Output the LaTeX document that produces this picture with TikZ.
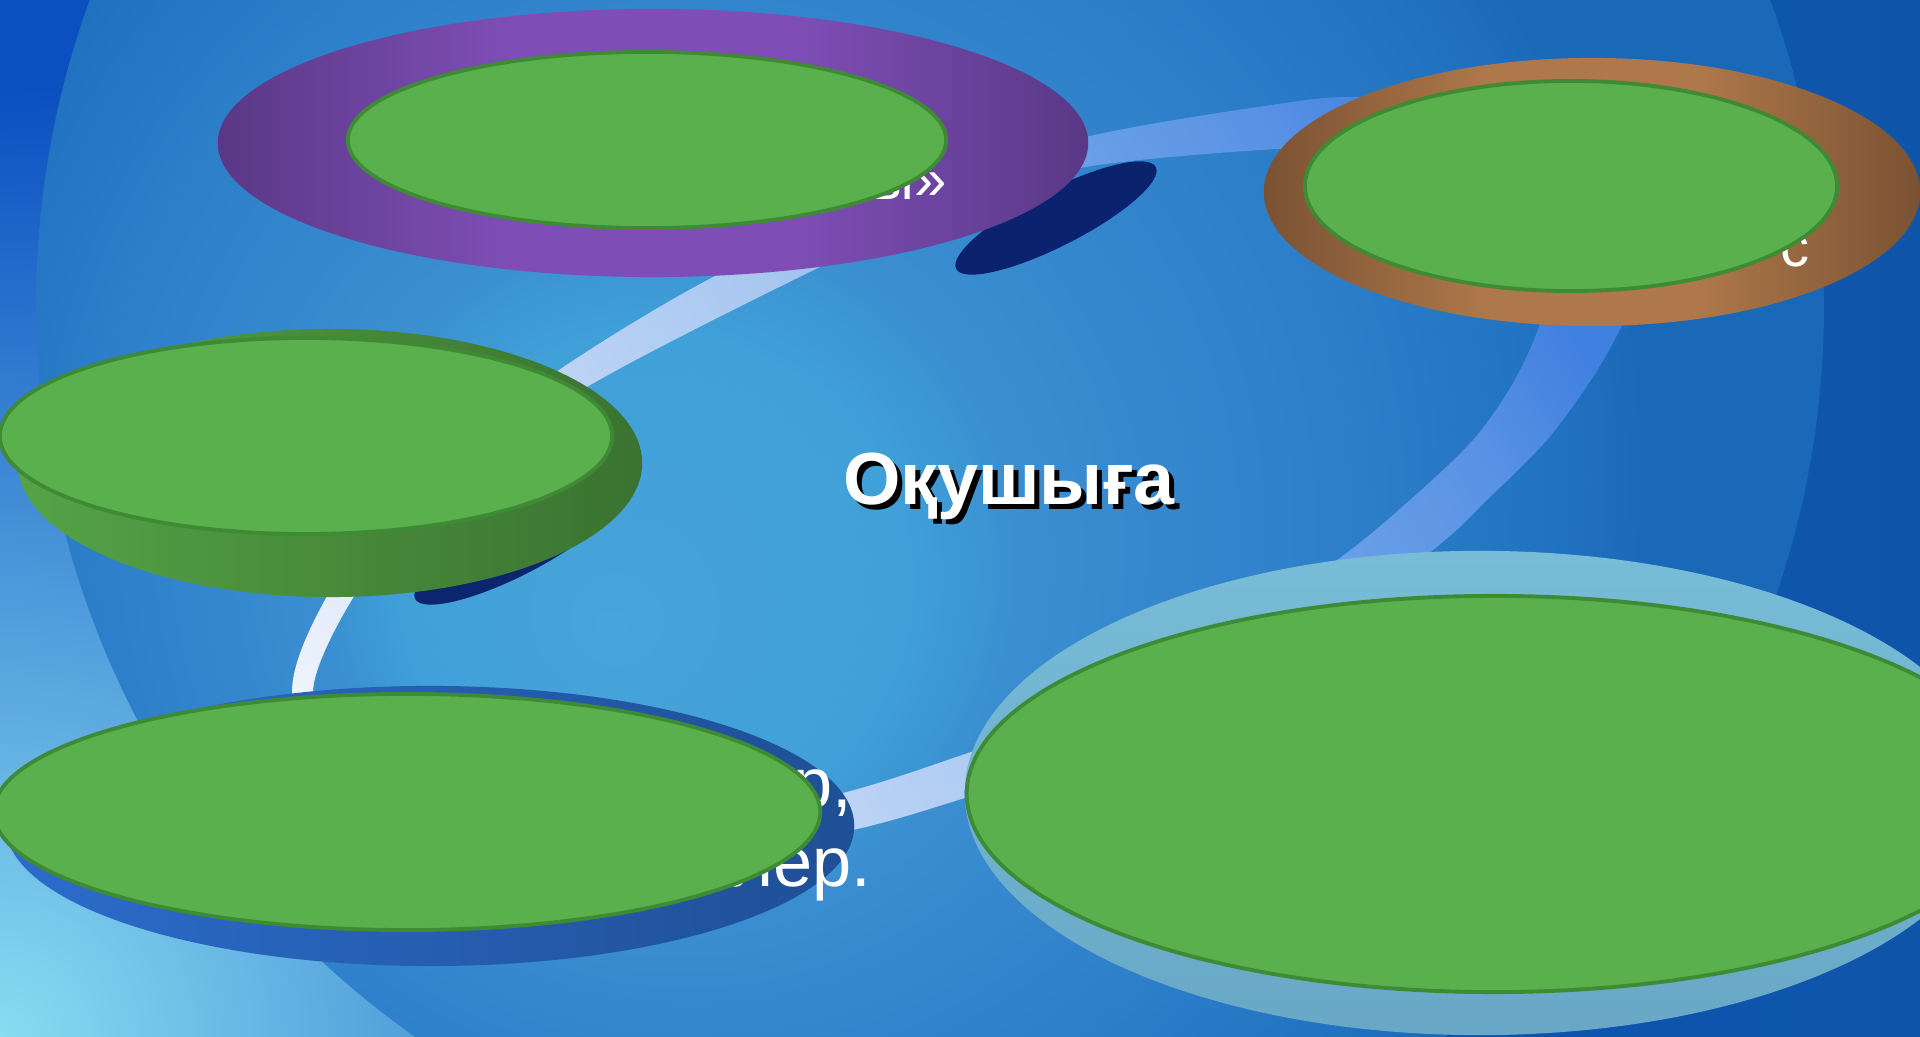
\documentclass[tikz,border=0pt]{standalone}
\usepackage{fontspec}
\setmainfont{Liberation Sans}
\usetikzlibrary{shapes.geometric, fadings}

\definecolor{bgleft}{HTML}{0C4FC2}
\definecolor{bgright}{HTML}{0E55AA}
\definecolor{glowcyan}{HTML}{8ADCF2}
\definecolor{discin}{HTML}{48A4DA}
\definecolor{discmid}{HTML}{40A0D8}
\definecolor{discmid2}{HTML}{3A8ED0}
\definecolor{discmid3}{HTML}{2E80CA}
\definecolor{discmid4}{HTML}{2274C2}
\definecolor{discout}{HTML}{1A68B8}
\definecolor{ring0}{HTML}{F4F8FE}
\definecolor{ring1}{HTML}{EEF3FC}
\definecolor{ring2}{HTML}{B8D0F4}
\definecolor{ring3}{HTML}{A8C8F0}
\definecolor{ring4}{HTML}{6AA0E8}
\definecolor{ring5}{HTML}{5A92E4}
\definecolor{ring6}{HTML}{4080E0}
\definecolor{ring7}{HTML}{3A7CE0}
\definecolor{navyshadow}{HTML}{081B66}
\definecolor{purpleedge}{HTML}{5A3886}
\definecolor{purplemid}{HTML}{7E4EB6}
\definecolor{brownedge}{HTML}{7A5233}
\definecolor{brownmid}{HTML}{AE784A}
\definecolor{facegreen}{HTML}{5AB04C}
\definecolor{faceline}{HTML}{3F8A35}
\definecolor{sidelight}{HTML}{55A347}
\definecolor{sidedark}{HTML}{3A7330}
\definecolor{baseblue}{HTML}{2C6CCC}
\definecolor{basedark}{HTML}{1F4F95}
\definecolor{palelight}{HTML}{78BCD8}
\definecolor{paledark}{HTML}{68A8C6}

\tikzfading[name=glowfade, inner color=transparent!0, outer color=transparent!100]
% the path fills 25bp to 75bp of each shading
\pgfdeclareradialshading{discglow}{\pgfpoint{-9bp}{-9bp}}{color(0bp)=(discin); color(7bp)=(discmid); color(10bp)=(discmid2); color(17bp)=(discmid3); color(22bp)=(discmid4); color(25bp)=(discout); color(50bp)=(discout)}
\pgfdeclarehorizontalshading{ringshade}{100bp}{color(0bp)=(ring0); color(31bp)=(ring1); color(43bp)=(ring2); color(48bp)=(ring3); color(57bp)=(ring4); color(62bp)=(ring5); color(66bp)=(ring6); color(100bp)=(ring7)}
\pgfdeclarehorizontalshading{purplering}{100bp}{color(0bp)=(purpleedge); color(25bp)=(purpleedge); color(42bp)=(purplemid); color(58bp)=(purplemid); color(75bp)=(purpleedge); color(100bp)=(purpleedge)}
\pgfdeclarehorizontalshading{brownring}{100bp}{color(0bp)=(brownedge); color(25bp)=(brownedge); color(42bp)=(brownmid); color(58bp)=(brownmid); color(75bp)=(brownedge); color(100bp)=(brownedge)}

\tikzset{
  face1/.style = {
    shape = ellipse,
    draw = faceline,
    fill = facegreen,
    line width = 1.1pt,
    inner sep = 0pt,
  }
}
\tikzset{
  rim1/.style = {
    shape = ellipse,
    inner sep = 0pt,
  }
}
\tikzset{
  shadow1/.style = {
    shape = ellipse, fill = navyshadow, fill opacity = 0.92, inner sep = 0pt,
    rotate = 27, minimum width = 2.24cm, minimum height = 0.56cm,
  }
}
\tikzset{
  frag1/.style = {text = white, inner sep = 0pt, anchor = base east},
  title1/.style = {anchor = base, font = \fontsize{21}{25}\selectfont\bfseries},
}

\begin{document}
\begin{tikzpicture}[x=0.01cm, y=-0.01cm]
        \useasboundingbox (0,0) rectangle (1920,1037);
        \clip (0,0) rectangle (1920,1037);
        % background
        \shade[left color=bgleft, right color=bgright] (0,0) rectangle (1920,1037);
        \fill[glowcyan, path fading=glowfade] (0,1037) circle [radius=950];
        \shade[shading=discglow] (930,306) circle [radius=894];
        % cycle ring
        \begin{scope}[even odd rule]
          \clip plot[smooth cycle] coordinates {
            (292,693) (326,598) (405,488) (556,372) (717,275) (900,195)
            (1086,137) (1278,104) (1358,97) (1500,105) (1620,160) (1655,245)
            (1623,323) (1593,377) (1547,440) (1487,500) (1433,550) (1250,690) (1050,770)
            (968,797) (853,830) (650,868) (450,860) (330,800)}
            plot[smooth cycle] coordinates {
            (313,693) (353,598) (435,495) (587,387) (820,267) (960,205)
            (1086,167) (1278,149) (1400,150) (1500,185) (1548,260)
            (1540,323) (1513,383) (1473,440) (1410,500) (1337,560) (1200,650) (1060,720)
            (968,753) (843,793) (650,835) (460,820) (355,765)};
          \begin{scope}[transform canvas={rotate around={33:(960,450)}}]
            \shade[shading=ringshade] (60,-450) rectangle (1860,1350);
          \end{scope}
        \end{scope}
        \node[shadow1](s1) at (1056,218) {};
        \node[shadow1](s2) at (515,548) {};
        % top left
        \node[rim1, minimum width = 8.7cm, minimum height = 2.68cm, shading = purplering](p) at (653,143) {};
        \node[frag1, font = \fontsize{16.5}{20}\selectfont](t1) at (947,200) {ы»};
        \node[face1, minimum width = 5.98cm, minimum height = 1.76cm](1) at (647,140) {};
        % top right
        \node[rim1, minimum width = 6.56cm, minimum height = 2.68cm, shading = brownring](b) at (1592,192) {};
        \node[frag1, font = \fontsize{16.5}{20}\selectfont](t2) at (1810,267) {с};
        \node[face1, minimum width = 5.32cm, minimum height = 2.10cm](2) at (1571,186) {};
        % left
        \node[rim1, minimum width = 6.24cm, minimum height = 2.68cm, left color = sidelight, right color = sidedark](g) at (330,463) {};
        \node[face1, minimum width = 6.12cm, minimum height = 1.96cm](3) at (306,436) {};
        % bottom left
        \node[rim1, minimum width = 8.48cm, minimum height = 2.80cm, left color = baseblue, right color = basedark](l) at (430,826) {};
        \node[frag1, font = \fontsize{20}{24}\selectfont](t3) at (853,808) {р,};
        \node[frag1, font = \fontsize{20}{24}\selectfont](t4) at (872,887) {лер.};
        \node[face1, minimum width = 8.26cm, minimum height = 2.36cm](4) at (407,812) {};
        % bottom right
        \node[rim1, minimum width = 10.30cm, minimum height = 4.84cm, top color = palelight, bottom color = paledark](r) at (1480,793) {};
        \node[face1, minimum width = 10.54cm, minimum height = 3.96cm](5) at (1494,794) {};
        % centre
        \node[title1, text = black](tshadow) at (1014,510) {Оқушыға};
        \node[title1, text = white](title) at (1009,505) {Оқушыға};
    \end{tikzpicture}
\end{document}
